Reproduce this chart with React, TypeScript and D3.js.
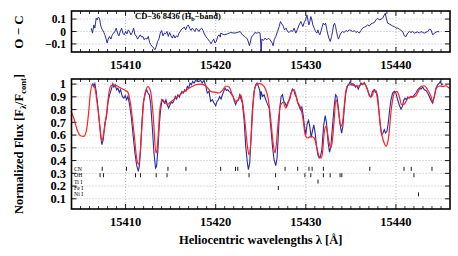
import * as d3 from "d3";

// O - C residuals (top panel)
const ocWave = [
  15406.19, 15406.33, 15406.48, 15406.59, 15406.74, 15406.85, 15406.96, 15407.11, 15407.22, 15407.33,
  15407.44, 15407.59, 15407.7, 15407.81, 15407.96, 15408.07, 15408.22, 15408.37, 15408.52, 15408.67,
  15408.81, 15408.96, 15409.11, 15409.26, 15409.41, 15409.56, 15409.7, 15409.85, 15410.0, 15410.15,
  15410.3, 15410.44, 15410.59, 15410.74, 15410.89, 15411.04, 15411.19, 15411.33, 15411.48, 15411.63,
  15411.78, 15411.93, 15412.07, 15412.22, 15412.37, 15412.52, 15412.67, 15412.81, 15412.96, 15413.11,
  15413.26, 15413.41, 15413.56, 15413.7, 15413.85, 15414.0, 15414.15, 15414.3, 15414.44, 15414.59,
  15414.74, 15414.89, 15415.04, 15415.19, 15415.33, 15415.48, 15415.63, 15415.78, 15415.93, 15416.07,
  15416.22, 15416.37, 15416.52, 15416.67, 15416.81, 15416.96, 15417.11, 15417.26, 15417.41, 15417.56,
  15417.7, 15417.85, 15418.0, 15418.15, 15418.3, 15418.44, 15418.59, 15418.74, 15418.89, 15419.04,
  15419.19, 15419.33, 15419.48, 15419.63, 15419.78, 15419.93, 15420.07, 15420.22, 15420.37, 15420.52,
  15420.56, 15420.93, 15421.3, 15421.67, 15422.04, 15422.41, 15422.71, 15422.97, 15423.23, 15423.52,
  15423.75, 15423.97, 15424.19, 15424.34, 15424.56, 15424.78, 15424.93, 15425.04, 15425.12, 15425.3,
  15425.49, 15425.67, 15425.86, 15426.04, 15426.23, 15426.38, 15426.49, 15426.67, 15426.86, 15427.04,
  15427.19, 15427.34, 15427.49, 15427.63, 15427.82, 15427.97, 15428.15, 15428.34, 15428.52, 15428.71,
  15428.89, 15429.08, 15429.26, 15429.45, 15429.56, 15429.67, 15429.82, 15429.97, 15430.12, 15430.23,
  15430.34, 15430.45, 15430.56, 15430.67, 15430.78, 15430.93, 15431.08, 15431.23, 15431.34, 15431.45,
  15431.56, 15431.67, 15431.82, 15431.93, 15432.08, 15432.19, 15432.3, 15432.41, 15432.56, 15432.71,
  15432.86, 15432.97, 15433.08, 15433.19, 15433.3, 15433.41, 15433.52, 15433.63, 15433.75, 15433.89,
  15434.08, 15434.26, 15434.45, 15434.63, 15434.82, 15435.0, 15435.19, 15435.38, 15435.56, 15435.75,
  15435.93, 15436.12, 15436.3, 15436.49, 15436.67, 15436.86, 15437.04, 15437.23, 15437.41, 15437.6,
  15437.78, 15437.97, 15438.15, 15438.34, 15438.52, 15438.71, 15438.82, 15438.93, 15439.08, 15439.26,
  15439.45, 15439.63, 15439.82, 15440.0, 15440.19, 15440.38, 15440.56, 15440.75, 15440.93, 15441.12,
  15441.3, 15441.49, 15441.67, 15441.86, 15442.04, 15442.23, 15442.41, 15442.6, 15442.78, 15442.97,
  15443.15, 15443.34, 15443.52, 15443.71, 15443.89, 15444.08, 15444.26, 15444.45, 15444.63, 15444.82,
];
const ocVal = [
  0.027, -0.013, 0.053, 0.027, 0.107, 0.093, 0.115, 0.107, 0.053, 0.027,
  0.013, -0.008, -0.027, -0.053, -0.093, -0.061, -0.04, -0.061, -0.027, -0.013,
  0, 0.027, -0.013, -0.035, 0, 0.027, -0.013, -0.027, 0, -0.019,
  0.013, 0, -0.027, -0.008, 0.027, -0.027, -0.035, -0.061, -0.045, -0.027,
  -0.045, -0.04, -0.067, -0.053, -0.061, -0.04, -0.088, -0.107, -0.12, -0.133,
  -0.147, -0.12, -0.08, -0.061, -0.013, 0.008, -0.035, -0.013, -0.019, 0,
  -0.04, -0.008, -0.035, -0.053, -0.027, -0.053, -0.035, -0.045, -0.013, 0,
  0.019, 0.027, 0.035, 0.013, 0.04, 0.053, 0.027, 0.008, 0.027, 0.013,
  0, 0.027, 0.013, 0, 0.019, 0.027, 0.008, -0.019, -0.04, -0.053,
  -0.067, -0.08, -0.099, -0.08, -0.061, -0.093, -0.08, -0.04, -0.027, -0.045,
  -0.013, -0.027, -0.019, -0.008, -0.013, -0.008, 0, -0.027, -0.04, -0.061,
  -0.115, -0.045, -0.027, -0.008, -0.013, -0.008, -0.013, -0.16, -0.061, -0.072,
  -0.053, -0.067, -0.053, -0.067, -0.088, -0.115, -0.067, -0.04, 0, 0.04,
  0.08, 0.061, 0.045, 0.013, 0.027, 0, -0.008, 0.008, 0, 0.027,
  -0.013, 0.019, 0.053, 0.08, 0.061, 0.04, 0.072, 0.093, 0.133, 0.093,
  0.053, 0.08, 0.12, 0.093, 0.053, 0.027, 0, -0.013, 0.013, -0.013,
  -0.027, 0, 0.04, 0.067, 0.053, 0.067, 0.027, -0.013, -0.053, -0.08,
  -0.04, 0, 0.053, 0.067, 0.04, 0, -0.04, -0.061, -0.035, -0.013,
  0, -0.008, 0.008, 0, 0.013, 0.008, 0, 0.008, -0.008, 0,
  -0.013, 0.008, 0.027, 0.035, 0.04, 0.053, 0.045, 0.061, 0.067, 0.072,
  0.093, 0.107, 0.093, 0.099, 0.107, 0.133, 0.147, 0.107, 0.067, 0.061,
  0.053, 0.045, 0.04, 0.027, 0.027, 0.019, 0.008, 0, -0.035, -0.04,
  -0.013, 0, -0.008, 0, -0.013, -0.008, -0.003, -0.013, 0, -0.008,
  -0.013, -0.005, 0, 0.019, 0.013, -0.027, -0.013, -0.005, 0, -0.003,
];

// observed spectrum (blue)
const obsWave = [
  15406.22, 15406.37, 15406.48, 15406.59, 15406.74, 15407.0, 15407.22, 15407.37, 15407.52, 15407.7,
  15407.89, 15408.04, 15408.22, 15408.41, 15408.59, 15408.7, 15408.85, 15409.0, 15409.15, 15409.3,
  15409.44, 15409.63, 15409.81, 15409.96, 15410.11, 15410.26, 15410.41, 15410.63, 15410.85, 15411.04,
  15411.22, 15411.41, 15411.52, 15411.67, 15411.81, 15411.96, 15412.19, 15412.33, 15412.48, 15412.63,
  15412.78, 15412.96, 15413.15, 15413.33, 15413.44, 15413.59, 15413.74, 15413.89, 15414.04, 15414.19,
  15414.33, 15414.48, 15414.63, 15414.78, 15414.93, 15415.07, 15415.22, 15415.37, 15415.52, 15415.67,
  15415.81, 15415.96, 15416.11, 15416.26, 15416.41, 15416.56, 15416.7, 15416.85, 15417.0, 15417.15,
  15417.3, 15417.44, 15417.59, 15417.78, 15417.96, 15418.15, 15418.33, 15418.52, 15418.7, 15418.89,
  15419.07, 15419.26, 15419.44, 15419.63, 15419.81, 15420.0, 15420.15, 15420.3, 15420.44, 15420.59,
  15420.74, 15420.89, 15421.04, 15421.19, 15421.33, 15421.48, 15421.63, 15421.78, 15421.93, 15422.07,
  15422.22, 15422.37, 15422.52, 15422.67, 15422.81, 15422.96, 15423.15, 15423.33, 15423.52, 15423.63,
  15423.78, 15423.89, 15424.07, 15424.26, 15424.44, 15424.59, 15424.74, 15424.89, 15424.96, 15425.04,
  15425.19, 15425.37, 15425.56, 15425.7, 15425.93, 15426.11, 15426.3, 15426.48, 15426.67, 15426.81,
  15426.96, 15427.11, 15427.26, 15427.41, 15427.56, 15427.7, 15427.85, 15428.0, 15428.22, 15428.37,
  15428.52, 15428.67, 15428.81, 15428.96, 15429.11, 15429.26, 15429.41, 15429.56, 15429.7, 15429.85,
  15430.0, 15430.15, 15430.3, 15430.44, 15430.59, 15430.74, 15430.89, 15431.04, 15431.19, 15431.33,
  15431.48, 15431.63, 15431.78, 15431.97, 15432.15, 15432.3, 15432.48, 15432.63, 15432.78, 15432.96,
  15433.15, 15433.3, 15433.45, 15433.59, 15433.78, 15433.97, 15434.11, 15434.26, 15434.44, 15434.63,
  15434.82, 15434.93, 15435.07, 15435.22, 15435.37, 15435.52, 15435.67, 15435.82, 15435.97, 15436.11,
  15436.3, 15436.48, 15436.67, 15436.85, 15437.04, 15437.22, 15437.41, 15437.59, 15437.71, 15437.82,
  15437.97, 15438.11, 15438.26, 15438.41, 15438.56, 15438.71, 15438.85, 15439.0, 15439.15, 15439.3,
  15439.45, 15439.63, 15439.82, 15440.0, 15440.19, 15440.37, 15440.56, 15440.71, 15440.86, 15441.0,
  15441.15, 15441.3, 15441.48, 15441.67, 15441.85, 15442.04, 15442.22, 15442.41, 15442.59, 15442.78,
  15442.97, 15443.15, 15443.34, 15443.52, 15443.71, 15443.89, 15444.08, 15444.26, 15444.45, 15444.63,
  15444.82, 15444.93, 15445.08, 15445.23,
];
const obsFlux = [
  0.987, 1.003, 0.982, 1.003, 0.943, 0.773, 0.603, 0.525, 0.564, 0.695,
  0.747, 0.851, 0.916, 0.956, 1.003, 0.977, 0.995, 0.956, 0.969, 0.935,
  0.956, 0.903, 0.89, 0.909, 0.877, 0.903, 0.851, 0.747, 0.59, 0.46,
  0.368, 0.316, 0.355, 0.486, 0.695, 0.851, 0.93, 0.956, 0.93, 0.916,
  0.851, 0.668, 0.46, 0.342, 0.355, 0.486, 0.681, 0.799, 0.877, 0.864,
  0.851, 0.877, 0.838, 0.812, 0.838, 0.856, 0.851, 0.872, 0.903, 0.883,
  0.916, 0.898, 0.924, 0.943, 0.93, 0.956, 0.945, 0.982, 0.969, 1.008,
  0.995, 1.021, 1.008, 1.029, 1.021, 1.021, 1.029, 1.008, 1.029, 0.987,
  0.93, 0.943, 0.864, 0.877, 0.851, 0.83, 0.864, 0.877, 0.903, 0.883,
  0.916, 0.943, 0.969, 0.95, 0.956, 0.943, 0.935, 0.916, 0.903, 0.864,
  0.838, 0.872, 0.877, 0.916, 0.883, 0.851, 0.721, 0.512, 0.381, 0.329,
  0.381, 0.538, 0.799, 0.943, 0.995, 1.008, 0.982, 0.95, 0.877, 0.943,
  0.903, 0.916, 0.877, 0.851, 0.812, 0.668, 0.512, 0.407, 0.36, 0.42,
  0.616, 0.812, 0.903, 0.916, 0.864, 0.851, 0.825, 0.856, 0.883, 0.93,
  0.961, 0.95, 0.916, 0.898, 0.851, 0.825, 0.799, 0.82, 0.76, 0.668,
  0.603, 0.69, 0.715, 0.668, 0.58, 0.635, 0.68, 0.616, 0.512, 0.446,
  0.42, 0.433, 0.486, 0.668, 0.752, 0.695, 0.538, 0.465, 0.512, 0.668,
  0.825, 0.916, 0.903, 0.825, 0.695, 0.616, 0.668, 0.799, 0.93, 0.987,
  1.003, 1.021, 0.995, 1.003, 0.995, 0.977, 0.987, 0.961, 0.982, 1.008,
  0.995, 1.013, 0.987, 0.956, 0.909, 0.898, 0.943, 0.956, 0.935, 0.943,
  0.903, 0.799, 0.681, 0.603, 0.616, 0.642, 0.616, 0.629, 0.695, 0.799,
  0.877, 0.93, 0.943, 0.93, 0.877, 0.838, 0.804, 0.825, 0.872, 0.89,
  0.877, 0.898, 0.89, 0.903, 0.898, 0.916, 0.93, 0.956, 0.969, 0.961,
  0.977, 0.956, 0.95, 0.93, 0.903, 0.872, 0.851, 0.903, 0.969, 0.995,
  1.008, 1.021, 0.995, 1.003,
];

// synthetic spectrum (red)
const modWave = [
  15404.0, 15404.26, 15404.63, 15405.0, 15405.37, 15405.67, 15405.93, 15406.11, 15406.37, 15406.59,
  15406.85, 15407.15, 15407.37, 15407.59, 15407.89, 15408.15, 15408.41, 15408.89, 15409.44, 15410.0,
  15410.26, 15410.56, 15410.93, 15411.3, 15411.48, 15411.74, 15412.04, 15412.48, 15412.78, 15413.07,
  15413.37, 15413.52, 15413.81, 15414.07, 15414.33, 15414.63, 15415.0, 15415.74, 15416.48, 15417.22,
  15417.78, 15418.33, 15418.89, 15419.44, 15420.0, 15420.37, 15420.74, 15421.11, 15421.48, 15421.85,
  15422.22, 15422.52, 15422.78, 15422.96, 15423.26, 15423.52, 15423.7, 15423.89, 15424.07, 15424.26,
  15424.44, 15424.81, 15425.19, 15425.56, 15425.85, 15426.11, 15426.37, 15426.59, 15426.74, 15426.96,
  15427.22, 15427.48, 15427.78, 15428.15, 15428.44, 15428.7, 15429.07, 15429.44, 15429.7, 15429.93,
  15430.19, 15430.56, 15430.93, 15431.19, 15431.48, 15431.7, 15431.85, 15432.04, 15432.22, 15432.41,
  15432.59, 15432.78, 15432.96, 15433.15, 15433.33, 15433.52, 15433.7, 15433.89, 15434.07, 15434.26,
  15434.44, 15434.63, 15435.0, 15435.37, 15435.74, 15436.11, 15436.48, 15436.78, 15437.04, 15437.22,
  15437.41, 15437.59, 15437.78, 15437.96, 15438.15, 15438.33, 15438.52, 15438.7, 15438.89, 15439.07,
  15439.26, 15439.44, 15439.63, 15439.81, 15440.11, 15440.37, 15440.63, 15440.85, 15441.0, 15441.22,
  15441.48, 15441.85, 15442.22, 15442.48, 15442.78, 15443.15, 15443.52, 15443.89, 15444.07, 15444.26,
  15444.44, 15444.81, 15445.19, 15445.56, 15445.93, 15446.0,
];
const modFlux = [
  0.78, 0.73, 0.64, 0.595, 0.59, 0.64, 0.8, 0.94, 0.995, 0.97,
  0.85, 0.67, 0.55, 0.62, 0.77, 0.93, 0.99, 0.99, 0.97, 0.95,
  0.935, 0.84, 0.62, 0.39, 0.37, 0.59, 0.88, 0.98, 0.94, 0.75,
  0.46, 0.5, 0.8, 0.88, 0.86, 0.84, 0.86, 0.9, 0.94, 0.975,
  0.995, 1.0, 0.987, 0.943, 0.935, 0.93, 0.95, 0.985, 0.977, 0.916,
  0.864, 0.877, 0.916, 0.864, 0.695, 0.512, 0.446, 0.538, 0.747, 0.93,
  0.987, 1.003, 0.995, 0.956, 0.877, 0.721, 0.538, 0.46, 0.538, 0.721,
  0.838, 0.856, 0.812, 0.877, 0.943, 0.956, 0.864, 0.812, 0.721, 0.603,
  0.577, 0.59, 0.577, 0.512, 0.433, 0.42, 0.46, 0.616, 0.668, 0.616,
  0.538, 0.499, 0.564, 0.721, 0.877, 0.838, 0.747, 0.668, 0.695, 0.825,
  0.943, 0.987, 0.995, 0.987, 0.982, 0.995, 1.003, 0.969, 0.916, 0.898,
  0.916, 0.956, 0.943, 0.877, 0.76, 0.642, 0.577, 0.538, 0.512, 0.538,
  0.629, 0.773, 0.877, 0.93, 0.943, 0.903, 0.838, 0.838, 0.851, 0.877,
  0.898, 0.898, 0.909, 0.943, 0.982, 0.987, 0.956, 0.903, 0.864, 0.903,
  0.961, 0.985, 0.982, 0.987, 0.969, 0.972,
];

// line identifications
const idLabels = ["CN", "OH", "Ti I", "Fe I", "Ni I"];
const idLevels = [0.335, 0.285, 0.235, 0.185, 0.135];
const cnLines = [15407.41, 15410.1, 15414.7, 15416.7, 15420.55, 15422.2, 15422.45, 15427.7, 15429.1, 15430.35, 15430.7, 15431.95, 15437.1, 15440.9, 15441.7, 15444.0];
const ohLines = [15407.17, 15407.55, 15411.1, 15411.65, 15413.4, 15414.6, 15423.7, 15426.65, 15429.9, 15430.55, 15431.95, 15432.7, 15433.8, 15434.0, 15442.0];
const tiLines = [15431.35];
const feLines = [15426.95];
const niLines = [15442.5];
const idLines = [cnLines, ohLines, tiLines, feLines, niLines];

const xTicks = [15410, 15420, 15430, 15440];
const ocTicks = [0.1, 0, -0.1];
const ocTickLabels = ["0.1", "0", "\u22120.1"];
const fluxTicks = [1, 0.9, 0.8, 0.7, 0.6, 0.5, 0.4, 0.3, 0.2, 0.1];
const fluxTickLabels = ["1", "0.9", "0.8", "0.7", "0.6", "0.5", "0.4", "0.3", "0.2", "0.1"];

const W = 458, H = 256;
const L = 71.5, R = 450;
const P1 = { top: 11, bottom: 52 };
const P2 = { top: 79, bottom: 209 };
const FONT = "'Liberation Serif', 'Times New Roman', 'DejaVu Serif', serif";
const GRID = "#a8a8a8";

function Frame({ x, y, top, bottom, yTicks }) {
  const minors = d3.range(15405, 15446).filter(v => v % 10 !== 0);
  return (
    <g>
      {xTicks.map(v => (
        <line key={"gx" + v} x1={x(v)} x2={x(v)} y1={top} y2={bottom} stroke={GRID} strokeWidth={0.8} strokeDasharray="1 2" />
      ))}
      {yTicks.map(v => (
        <line key={"gy" + v} x1={L} x2={R} y1={y(v)} y2={y(v)} stroke={GRID} strokeWidth={0.8} strokeDasharray="1 2" />
      ))}
      {minors.map(v => (
        <g key={"m" + v}>
          <line x1={x(v)} x2={x(v)} y1={bottom} y2={bottom - 3} stroke="#000" strokeWidth={0.8} />
          <line x1={x(v)} x2={x(v)} y1={top} y2={top + 3} stroke="#000" strokeWidth={0.8} />
        </g>
      ))}
      {xTicks.map(v => (
        <g key={"M" + v}>
          <line x1={x(v)} x2={x(v)} y1={bottom} y2={bottom - 5} stroke="#000" strokeWidth={0.9} />
          <line x1={x(v)} x2={x(v)} y1={top} y2={top + 5} stroke="#000" strokeWidth={0.9} />
        </g>
      ))}
      {yTicks.map(v => (
        <g key={"yt" + v}>
          <line x1={L} x2={L + 5} y1={y(v)} y2={y(v)} stroke="#000" strokeWidth={0.9} />
          <line x1={R} x2={R - 5} y1={y(v)} y2={y(v)} stroke="#000" strokeWidth={0.9} />
        </g>
      ))}
    </g>
  );
}

export default function App() {
  const x = d3.scaleLinear().domain([15404, 15446]).range([L, R]);
  const y1 = d3.scaleLinear().domain([-0.165, 0.165]).range([P1.bottom, P1.top]);
  const y2 = d3.scaleLinear().domain([0.02, 1.04]).range([P2.bottom, P2.top]);

  const ocLine = d3.line<number>().x((_, i) => x(ocWave[i])).y(d => y1(d));
  const obsLine = d3.line<number>().x((_, i) => x(obsWave[i])).y(d => y2(d));
  const modLine = d3.line<number>().x((_, i) => x(modWave[i])).y(d => y2(d)).curve(d3.curveMonotoneX);

  const txt = { fontFamily: FONT, fontWeight: "bold", fill: "#000" } as const;

  return (
    <svg width={W} height={H} style={{ position: "absolute", left: 0, top: 0, background: "#fff" }}>
      <defs>
        <clipPath id="c1"><rect x={L} y={P1.top} width={R - L} height={P1.bottom - P1.top} /></clipPath>
        <clipPath id="c2"><rect x={L} y={P2.top} width={R - L} height={P2.bottom - P2.top} /></clipPath>
      </defs>

      {/* top panel: O - C */}
      <Frame x={x} y={y1} top={P1.top} bottom={P1.bottom} yTicks={ocTicks} />
      <path d={ocLine(ocVal) || ""} fill="none" stroke="#2a2aa6" strokeWidth={1} clipPath="url(#c1)" />
      <text x={135} y={19} fontSize={8.5} {...txt}>
        CD−36 8436 (H<tspan dy={2} fontSize={6}>b</tspan><tspan dy={-2}>−band)</tspan>
      </text>
      <rect x={L} y={P1.top} width={R - L} height={P1.bottom - P1.top} fill="none" stroke="#000" strokeWidth={1.6} />
      {ocTicks.map((v, i) => (
        <text key={v} x={66} y={y1(v)} dy="0.35em" textAnchor="end" fontSize={11.5} {...txt}>{ocTickLabels[i]}</text>
      ))}
      {xTicks.map(v => (
        <text key={v} x={x(v)} y={69} textAnchor="middle" fontSize={12.5} {...txt}>{v}</text>
      ))}
      <text transform={`translate(23,32) rotate(-90)`} textAnchor="middle" fontSize={13} {...txt}>O − C</text>

      {/* bottom panel: spectra */}
      <Frame x={x} y={y2} top={P2.top} bottom={P2.bottom} yTicks={fluxTicks} />
      <g clipPath="url(#c2)">
        <path d={obsLine(obsFlux) || ""} fill="none" stroke="#2a2aa6" strokeWidth={1.1} />
        <path d={modLine(modFlux) || ""} fill="none" stroke="#ff2020" strokeWidth={1.2} />
        {idLines.map((row, r) =>
          row.map((w, j) => (
            <line key={r + "-" + j} x1={x(w)} x2={x(w)} y1={y2(idLevels[r]) - 2} y2={y2(idLevels[r]) + 2} stroke="#000" strokeWidth={0.9} />
          ))
        )}
      </g>
      {idLabels.map((s, r) => (
        <text key={s} x={74} y={y2(idLevels[r])} dy="0.33em" fontSize={5.8} fontFamily={FONT} fill="#000">{s}</text>
      ))}
      <rect x={L} y={P2.top} width={R - L} height={P2.bottom - P2.top} fill="none" stroke="#000" strokeWidth={1.6} />
      {fluxTicks.map((v, i) => (
        <text key={v} x={66} y={y2(v)} dy="0.35em" textAnchor="end" fontSize={12.5} {...txt}>{fluxTickLabels[i]}</text>
      ))}
      {xTicks.map(v => (
        <text key={v} x={x(v)} y={226} textAnchor="middle" fontSize={12.5} {...txt}>{v}</text>
      ))}
      <text transform={`translate(23,144) rotate(-90)`} textAnchor="middle" fontSize={12.5} {...txt}>
        Normalized Flux [F<tspan dy={3} fontSize={8.5}>λ</tspan><tspan dy={-3}>/F</tspan><tspan dy={3} fontSize={8.5}>cont</tspan><tspan dy={-3}>]</tspan>
      </text>
      <text x={(L + R) / 2} y={244} textAnchor="middle" fontSize={12.5} {...txt}>Heliocentric wavelengths λ [Å]</text>
    </svg>
  );
}
